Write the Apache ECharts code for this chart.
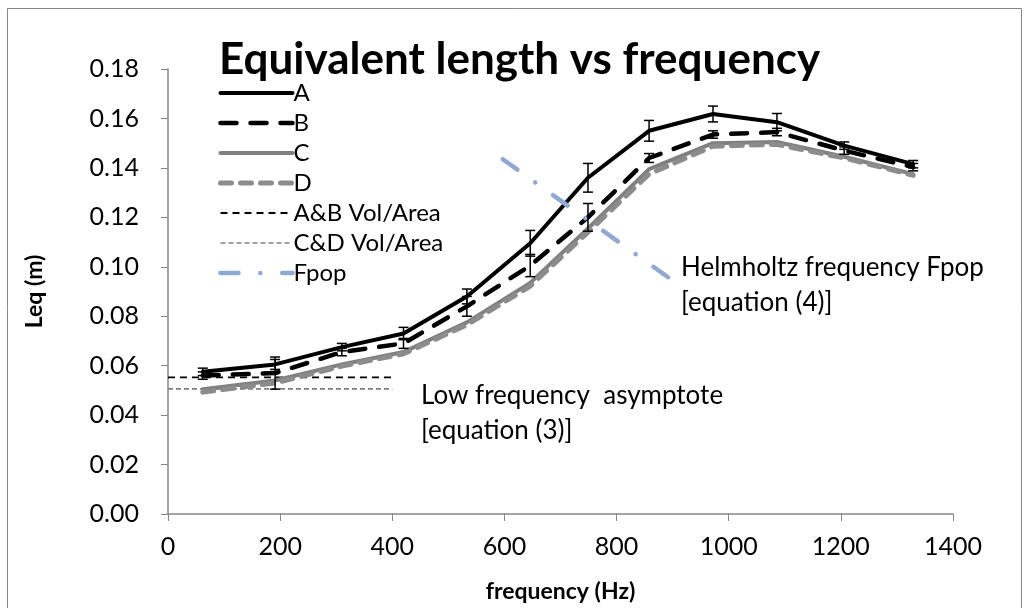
<!DOCTYPE html>
<html>
<head>
<meta charset="utf-8">
<script src="https://cdn.jsdelivr.net/npm/echarts@6/dist/echarts.min.js"></script>
<style>
html, body { margin: 0; padding: 0; background: #fff; }
#main { width: 1024px; height: 608px; }
</style>
</head>
<body>
<div id="main"></div>
<script>
// frequencies (Hz) of the measured points
var freq = [62, 191, 310, 420, 533, 646, 749, 858, 972, 1086, 1206, 1329];
// Leq (m) per configuration
var seriesA = [0.0575, 0.0605, 0.0675, 0.0730, 0.0880, 0.1095, 0.1360, 0.1550, 0.1618, 0.1585, 0.1490, 0.1415];
var seriesB = [0.0560, 0.0570, 0.0655, 0.0690, 0.0840, 0.1005, 0.1200, 0.1440, 0.1535, 0.1545, 0.1470, 0.1403];
var seriesC = [0.0505, 0.0540, 0.0605, 0.0655, 0.0775, 0.0935, 0.1155, 0.1395, 0.1500, 0.1505, 0.1445, 0.1375];
var seriesD = [0.0493, 0.0530, 0.0598, 0.0648, 0.0765, 0.0922, 0.1140, 0.1375, 0.1488, 0.1495, 0.1440, 0.1370];
// error bar half widths
var errA = [0.0015, 0.0020, 0.0015, 0.0025, 0.0030, 0.0052, 0.0058, 0.0042, 0.0032, 0.0035, 0.0015, 0.0015];
var errB = [0.0015, 0.0065, 0.0015, 0.0020, 0.0040, 0.0045, 0.0056, 0.0018, 0.0015, 0.0015, 0.0015, 0.0015];
// low frequency asymptotes (vol/area)
var asymX = [0, 400];
var asymAB = 0.0553;
var asymCD = 0.0506;
// Helmholtz frequency marker line
var fpopX = [597, 899];
var fpopY = [0.1435, 0.0946];

var xTicks = [0, 200, 400, 600, 800, 1000, 1200, 1400];

var FONT = 'Lato, "Liberation Sans", sans-serif';

function pairs(xs, ys) {
    return xs.map(function (x, i) { return [x, ys[i]]; });
}
function errData(ys, es) {
    return freq.map(function (x, i) { return [x, ys[i] - es[i], ys[i] + es[i]]; });
}

function renderErr(params, api) {
    var x = api.value(0);
    var lo = api.coord([x, api.value(1)]);
    var hi = api.coord([x, api.value(2)]);
    var w = 5;
    var st = { stroke: '#000', lineWidth: 1.5 };
    return {
        type: 'group',
        children: [
            { type: 'line', shape: { x1: lo[0], y1: lo[1], x2: hi[0], y2: hi[1] }, style: st },
            { type: 'line', shape: { x1: lo[0] - w, y1: lo[1], x2: lo[0] + w, y2: lo[1] }, style: st },
            { type: 'line', shape: { x1: hi[0] - w, y1: hi[1], x2: hi[0] + w, y2: hi[1] }, style: st }
        ]
    };
}

var myChart = echarts.init(document.getElementById('main'));
var option = {
    backgroundColor: '#fff',
    animation: false,
    title: {
        text: 'Equivalent length vs frequency',
        left: 214,
        top: 33,
        textStyle: { fontFamily: FONT, fontSize: 44, fontWeight: 'bold', color: '#000' }
    },
    graphic: [
        { type: 'rect', shape: { x: 7.5, y: 8.5, width: 1014, height: 640 }, style: { fill: 'none', stroke: '#868686', lineWidth: 1 }, silent: true },
        { type: 'text', left: 421, top: 378, style: { text: 'Low frequency  asymptote\n[equation (3)]', font: '26px ' + FONT, fill: '#000', lineHeight: 35 } },
        { type: 'text', left: 681, top: 250, style: { text: 'Helmholtz frequency Fpop\n[equation (4)]', font: '26px ' + FONT, fill: '#000', lineHeight: 35 } }
    ],
    legend: {
        orient: 'vertical',
        left: 213,
        top: 76,
        itemWidth: 72,
        itemHeight: 14,
        itemGap: 6,
        data: ['A', 'B', 'C', 'D', 'A&B Vol/Area', 'C&D Vol/Area', 'Fpop'],
        itemStyle: { color: 'rgba(0,0,0,0)', borderColor: 'rgba(0,0,0,0)', borderWidth: 0 },
        lineStyle: { width: 'inherit' },
        textStyle: { fontFamily: FONT, fontSize: 24, color: '#000', padding: [0, 0, 0, -4] }
    },
    grid: { left: 168, right: 71, top: 69, bottom: 90 },
    xAxis: {
        type: 'value',
        min: 0,
        max: 1400,
        interval: 200,
        name: 'frequency (Hz)',
        nameLocation: 'middle',
        nameGap: 66,
        nameTextStyle: { fontFamily: FONT, fontSize: 23, fontWeight: 'bold', color: '#000' },
        axisLine: { show: true, lineStyle: { color: '#868686', width: 1.5 } },
        axisTick: { show: true, length: 7, lineStyle: { color: '#868686' } },
        axisLabel: {
            fontFamily: FONT, fontSize: 25, color: '#000', margin: 20, customValues: xTicks,
            formatter: function (v) { return String(v); }
        },
        splitLine: { show: false }
    },
    yAxis: {
        type: 'value',
        min: 0,
        max: 0.18,
        interval: 0.02,
        name: 'Leq (m)',
        nameLocation: 'middle',
        nameGap: 122,
        nameRotate: 90,
        nameTextStyle: { fontFamily: FONT, fontSize: 23, fontWeight: 'bold', color: '#000' },
        axisLine: { show: true, lineStyle: { color: '#868686', width: 1.5 } },
        axisTick: { show: true, length: 7, lineStyle: { color: '#868686' } },
        axisLabel: {
            fontFamily: FONT, fontSize: 25, color: '#000', margin: 29,
            formatter: function (v) { return v.toFixed(2); }
        },
        splitLine: { show: false }
    },
    series: [
        {
            name: 'A', type: 'line', symbol: 'none', data: pairs(freq, seriesA), z: 5,
            itemStyle: { color: '#000' },
            lineStyle: { color: '#000', width: 4, cap: 'round', join: 'round' }
        },
        {
            name: 'B', type: 'line', symbol: 'none', data: pairs(freq, seriesB), z: 5,
            itemStyle: { color: '#000' },
            lineStyle: { color: '#000', width: 4.5, type: [16, 14], cap: 'round', join: 'round' }
        },
        {
            name: 'C', type: 'line', symbol: 'none', data: pairs(freq, seriesC), z: 3,
            itemStyle: { color: '#808080' },
            lineStyle: { color: '#808080', width: 4, cap: 'round', join: 'round' }
        },
        {
            name: 'D', type: 'line', symbol: 'none', data: pairs(freq, seriesD), z: 4,
            itemStyle: { color: '#8c8c8c' },
            lineStyle: { color: '#8c8c8c', width: 5, type: [11, 9], cap: 'round', join: 'round' }
        },
        {
            name: 'A&B Vol/Area', type: 'line', symbol: 'none', data: pairs(asymX, [asymAB, asymAB]), z: 2,
            itemStyle: { color: '#000' },
            lineStyle: { color: '#000', width: 1.8, type: [7, 5] }
        },
        {
            name: 'C&D Vol/Area', type: 'line', symbol: 'none', data: pairs(asymX, [asymCD, asymCD]), z: 2,
            itemStyle: { color: '#808080' },
            lineStyle: { color: '#808080', width: 1.6, type: [5, 3] }
        },
        {
            name: 'Fpop', type: 'line', symbol: 'none', data: pairs(fpopX, fpopY), z: 6,
            itemStyle: { color: '#8fa9d3' },
            lineStyle: { color: '#8fa9d3', width: 4.5, type: [18, 21.8, 0.1, 21.8], cap: 'round' }
        },
        {
            name: 'errA', type: 'custom', renderItem: renderErr, data: errData(seriesA, errA), z: 7,
            encode: { x: 0, y: [1, 2] }
        },
        {
            name: 'errB', type: 'custom', renderItem: renderErr, data: errData(seriesB, errB), z: 7,
            encode: { x: 0, y: [1, 2] }
        }
    ]
};
option && myChart.setOption(option);
</script>
</body>
</html>
